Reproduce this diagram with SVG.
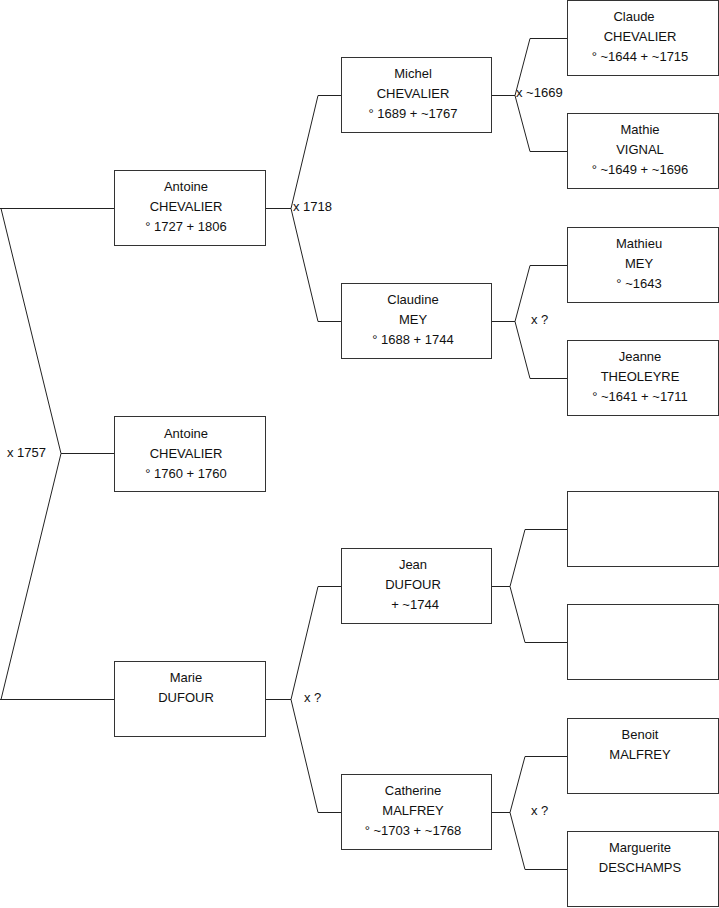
<svg xmlns="http://www.w3.org/2000/svg" width="719" height="908" viewBox="0 0 719 908">
<style>
rect.box{fill:#fff;stroke:#333;stroke-width:1}
.t{font-family:"Liberation Sans",Arial,sans-serif;font-size:13px;fill:#111;text-anchor:middle}
.l{font-family:"Liberation Sans",Arial,sans-serif;font-size:13px;fill:#111}
.c{fill:none;stroke:#222;stroke-width:1}
</style>
<rect width="719" height="908" fill="#fff"/>
<g id="connectors">
<path class="c" d="M0,208.5H114M1,208.5L61,453.5L1,699.5M0,699.5H114M61,453.5H114"/>
<path class="c" d="M265,208.5H291M341,95.5H318L291,208.5L318,321.5H341"/>
<path class="c" d="M265,699.5H291M341,586.5H318L291,699.5L318,812.5H341"/>
<path class="c" d="M492,95.5H515M567,38.5H530L515,95.5L530,151.5H567"/>
<path class="c" d="M492,321.5H515M567,265.5H530L515,321.5L530,378.5H567"/>
<path class="c" d="M492,586.5H510M567,529.5H525L510,586.5L525,642.5H567"/>
<path class="c" d="M492,812.5H510M567,756.5H525L510,812.5L525,869.5H567"/>
<text class="l" x="7" y="457">x 1757</text>
<text class="l" x="293" y="211">x 1718</text>
<text class="l" x="304" y="702">x ?</text>
<text class="l" x="516" y="97">x ~1669</text>
<text class="l" x="531" y="324">x ?</text>
<text class="l" x="531" y="815">x ?</text>
</g>
<g id="antoine-chevalier-1727">
<rect class="box" x="114.5" y="170.5" width="151" height="75"/>
<text class="t" x="186" y="191">Antoine</text>
<text class="t" x="186" y="211">CHEVALIER</text>
<text class="t" x="186" y="231">° 1727 + 1806</text>
</g>
<g id="antoine-chevalier-1760">
<rect class="box" x="114.5" y="416.5" width="151" height="75"/>
<text class="t" x="186" y="438">Antoine</text>
<text class="t" x="186" y="458">CHEVALIER</text>
<text class="t" x="186" y="478">° 1760 + 1760</text>
</g>
<g id="marie-dufour">
<rect class="box" x="114.5" y="661.5" width="151" height="75"/>
<text class="t" x="186" y="682">Marie</text>
<text class="t" x="186" y="702">DUFOUR</text>
</g>
<g id="michel-chevalier">
<rect class="box" x="341.5" y="57.5" width="150" height="75"/>
<text class="t" x="413" y="78">Michel</text>
<text class="t" x="413" y="98">CHEVALIER</text>
<text class="t" x="413" y="118">° 1689 + ~1767</text>
</g>
<g id="claudine-mey">
<rect class="box" x="341.5" y="283.5" width="150" height="75"/>
<text class="t" x="413" y="304">Claudine</text>
<text class="t" x="413" y="324">MEY</text>
<text class="t" x="413" y="344">° 1688 + 1744</text>
</g>
<g id="jean-dufour">
<rect class="box" x="341.5" y="548.5" width="150" height="75"/>
<text class="t" x="413" y="569">Jean</text>
<text class="t" x="413" y="589">DUFOUR</text>
<text class="t" x="415" y="609">+ ~1744</text>
</g>
<g id="catherine-malfrey">
<rect class="box" x="341.5" y="774.5" width="150" height="75"/>
<text class="t" x="413" y="795">Catherine</text>
<text class="t" x="413" y="815">MALFREY</text>
<text class="t" x="413" y="835">° ~1703 + ~1768</text>
</g>
<g id="claude-chevalier">
<rect class="box" x="567.5" y="0.5" width="151" height="75"/>
<text class="t" x="634" y="21">Claude</text>
<text class="t" x="640" y="41">CHEVALIER</text>
<text class="t" x="640" y="61">° ~1644 + ~1715</text>
</g>
<g id="mathie-vignal">
<rect class="box" x="567.5" y="113.5" width="151" height="75"/>
<text class="t" x="640" y="134">Mathie</text>
<text class="t" x="640" y="154">VIGNAL</text>
<text class="t" x="640" y="174">° ~1649 + ~1696</text>
</g>
<g id="mathieu-mey">
<rect class="box" x="567.5" y="227.5" width="151" height="75"/>
<text class="t" x="639" y="248">Mathieu</text>
<text class="t" x="639" y="268">MEY</text>
<text class="t" x="639" y="288">° ~1643</text>
</g>
<g id="jeanne-theoleyre">
<rect class="box" x="567.5" y="340.5" width="151" height="75"/>
<text class="t" x="640" y="361">Jeanne</text>
<text class="t" x="640" y="381">THEOLEYRE</text>
<text class="t" x="640" y="401">° ~1641 + ~1711</text>
</g>
<g id="unknown-1">
<rect class="box" x="567.5" y="491.5" width="151" height="75"/>
</g>
<g id="unknown-2">
<rect class="box" x="567.5" y="604.5" width="151" height="75"/>
</g>
<g id="benoit-malfrey">
<rect class="box" x="567.5" y="718.5" width="151" height="75"/>
<text class="t" x="640" y="739">Benoit</text>
<text class="t" x="640" y="759">MALFREY</text>
</g>
<g id="marguerite-deschamps">
<rect class="box" x="567.5" y="831.5" width="151" height="75"/>
<text class="t" x="640" y="852">Marguerite</text>
<text class="t" x="640" y="872">DESCHAMPS</text>
</g>
</svg>
